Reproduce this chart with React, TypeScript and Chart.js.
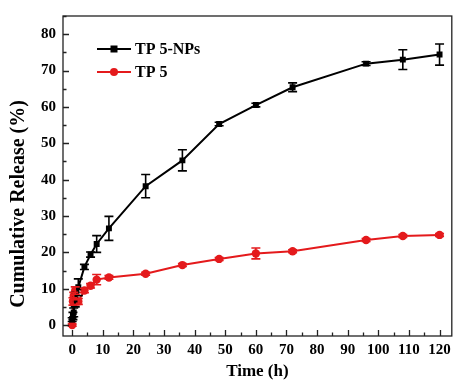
import React, { useEffect, useRef } from "react";
import { Chart, registerables } from "chart.js";

Chart.register(...registerables);

const timeHours = [0, 0.25, 0.5, 1, 2, 4, 6, 8, 12, 24, 36, 48, 60, 72, 96, 108, 120];
const npsRelease = [1.5, 2.5, 3.5, 7, 10.4, 16, 19.4, 22.3, 26.6, 38.2, 45.3, 55.3, 60.5, 65.4, 71.9, 73.0, 74.4];
const npsError = [0.5, 1, 1.2, 2, 2.3, 0.7, 0.7, 2.3, 3.3, 3.2, 2.9, 0.5, 0.5, 1.2, 0.5, 2.7, 2.9];
const tp5Release = [0, 6.5, 8, 9.5, 6.5, 9.5, 10.8, 12.5, 13.1, 14.1, 16.5, 18.2, 19.7, 20.3, 23.4, 24.5, 24.8];
const tp5Error = [0.3, 1, 1, 1, 0.8, 0.6, 0.6, 1.4, 0.5, 0.4, 0.4, 0.4, 1.5, 0.4, 0.4, 0.4, 0.4];
const xTickValues = [0, 10, 20, 30, 40, 50, 60, 70, 80, 90, 100, 110, 120];
const yTickValues = [0, 10, 20, 30, 40, 50, 60, 70, 80];
const seriesNames = ["TP 5-NPs", "TP 5"];
const xTitle = "Time (h)";
const yTitle = "Cumulative Release (%)";

const FONT = "'Liberation Serif', 'Times New Roman', serif";
const BLACK = "#000000";
const RED = "#e41a1c";

const errors = [npsError, tp5Error];

const errorBarPlugin = {
  id: "errorBars",
  afterDatasetsDraw(chart: any) {
    const ctx = chart.ctx;
    const xs = chart.scales.x;
    const ys = chart.scales.y;
    chart.data.datasets.forEach((ds: any, di: number) => {
      const errs = errors[di];
      ctx.save();
      ctx.strokeStyle = ds.borderColor;
      ctx.lineWidth = 1.6;
      ds.data.forEach((pt: any, i: number) => {
        const e = errs[i];
        const x = xs.getPixelForValue(pt.x);
        const y1 = ys.getPixelForValue(pt.y + e);
        const y2 = ys.getPixelForValue(pt.y - e);
        ctx.beginPath();
        ctx.moveTo(x, y1);
        ctx.lineTo(x, y2);
        ctx.moveTo(x - 4.5, y1);
        ctx.lineTo(x + 4.5, y1);
        ctx.moveTo(x - 4.5, y2);
        ctx.lineTo(x + 4.5, y2);
        ctx.stroke();
      });
      ctx.restore();
    });
  },
};

const framePlugin = {
  id: "frameTicks",
  afterDraw(chart: any) {
    const ctx = chart.ctx;
    const a = chart.chartArea;
    const xs = chart.scales.x;
    const ys = chart.scales.y;
    ctx.save();
    ctx.strokeStyle = "#222";
    ctx.lineWidth = 1.3;
    ctx.strokeRect(a.left, a.top, a.right - a.left, a.bottom - a.top);
    ctx.beginPath();
    for (let v = 0; v <= 120; v += 5) {
      const x = Math.round(xs.getPixelForValue(v)) + 0.5;
      const len = v % 10 === 0 ? 6 : 3.5;
      ctx.moveTo(x, a.bottom);
      ctx.lineTo(x, a.bottom - len);
    }
    for (let v = 0; v <= 85; v += 5) {
      const y = Math.round(ys.getPixelForValue(v)) + 0.5;
      const len = v % 10 === 0 ? 6 : 3.5;
      ctx.moveTo(a.left, y);
      ctx.lineTo(a.left + len, y);
    }
    ctx.stroke();
    ctx.restore();

    // y axis title
    ctx.save();
    ctx.translate(19, a.top + (a.bottom - a.top) / 2 + 28);
    ctx.rotate(-Math.PI / 2);
    ctx.fillStyle = "#000";
    ctx.font = `bold 20px ${FONT}`;
    ctx.textAlign = "center";
    ctx.textBaseline = "middle";
    ctx.fillText(yTitle, 0, 0);
    ctx.restore();

    // legend
    const lx = a.left + 34;
    const ly = a.top + 33;
    const gap = 23;
    chart.data.datasets.forEach((ds: any, i: number) => {
      const y = ly + i * gap;
      ctx.save();
      ctx.strokeStyle = ds.borderColor;
      ctx.lineWidth = 2;
      ctx.beginPath();
      ctx.moveTo(lx, y);
      ctx.lineTo(lx + 34, y);
      ctx.stroke();
      ctx.fillStyle = ds.borderColor;
      if (i === 0) {
        ctx.fillRect(lx + 17 - 3.5, y - 3.5, 7, 7);
      } else {
        ctx.beginPath();
        ctx.arc(lx + 17, y, 4, 0, Math.PI * 2);
        ctx.fill();
      }
      ctx.fillStyle = "#000";
      ctx.font = `bold 16px ${FONT}`;
      ctx.textBaseline = "middle";
      ctx.textAlign = "left";
      ctx.fillText(ds.label, lx + 38, y + 1);
      ctx.restore();
    });
  },
};

export default function App() {
  const canvasRef = useRef<HTMLCanvasElement | null>(null);

  useEffect(() => {
    const canvas = canvasRef.current;
    if (!canvas) return;
    const chart = new Chart(canvas, {
      type: "line",
      data: {
        datasets: [
          {
            label: seriesNames[0],
            data: timeHours.map((t, i) => ({ x: t, y: npsRelease[i] })),
            borderColor: BLACK,
            backgroundColor: BLACK,
            borderWidth: 2,
            pointStyle: "rect",
            pointRadius: 4.2,
            pointBorderWidth: 0,
            tension: 0,
          },
          {
            label: seriesNames[1],
            data: timeHours.map((t, i) => ({ x: t, y: tp5Release[i] })),
            borderColor: RED,
            backgroundColor: RED,
            borderWidth: 2,
            pointStyle: "circle",
            pointRadius: 4.2,
            pointBorderWidth: 0,
            tension: 0,
          },
        ],
      },
      options: {
        animation: false,
        responsive: false,
        devicePixelRatio: 1,
        layout: { padding: { top: 15, right: 1, left: 0, bottom: 0 } },
        plugins: { legend: { display: false }, tooltip: { enabled: false } },
        scales: {
          x: {
            type: "linear",
            min: -3,
            max: 124,
            grid: { display: false, drawTicks: false },
            border: { display: false },
            afterBuildTicks: (s: any) => {
              s.ticks = xTickValues.map((v) => ({ value: v }));
            },
            afterFit: (s: any) => {
              s.height = 49;
            },
            ticks: {
              padding: 5,
              color: "#000",
              font: { family: FONT, size: 15, weight: "bold" },
              maxRotation: 0,
              autoSkip: false,
            },
            title: {
              display: true,
              text: xTitle,
              color: "#000",
              font: { family: FONT, size: 17, weight: "bold" },
              padding: { top: 0, bottom: 3 },
            },
          },
          y: {
            type: "linear",
            min: -3,
            max: 85,
            grid: { display: false, drawTicks: false },
            border: { display: false },
            afterBuildTicks: (s: any) => {
              s.ticks = yTickValues.map((v) => ({ value: v }));
            },
            afterFit: (s: any) => {
              s.width = 63;
            },
            ticks: {
              padding: 7,
              color: "#000",
              font: { family: FONT, size: 15, weight: "bold" },
              autoSkip: false,
            },
            title: { display: false, text: yTitle },
          },
        },
      } as any,
      plugins: [errorBarPlugin, framePlugin],
    });
    return () => chart.destroy();
  }, []);

  return (
    <div style={{ position: "fixed", left: 0, top: 0, width: 456, height: 385, background: "#fff" }}>
      <canvas ref={canvasRef} width={456} height={385} style={{ display: "block", width: 456, height: 385 }} />
    </div>
  );
}
